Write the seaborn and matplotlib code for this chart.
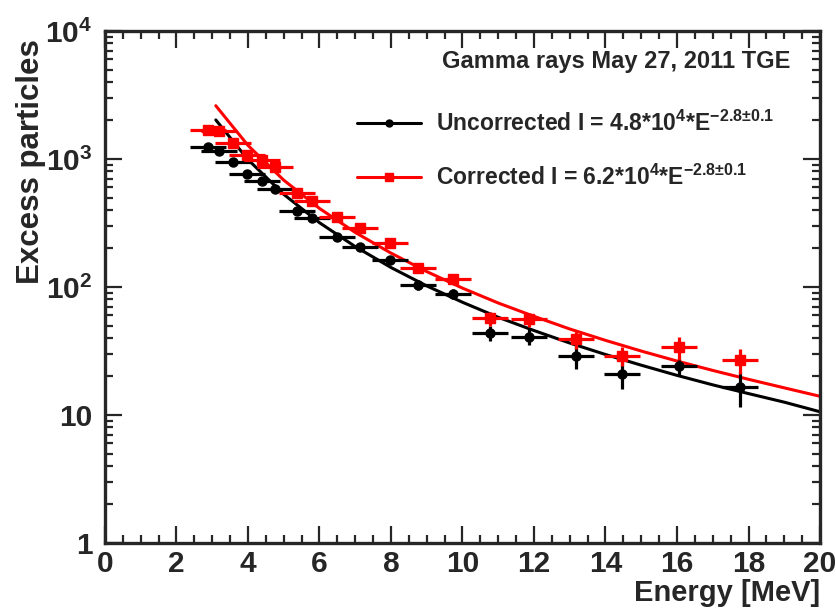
import seaborn as sns
import matplotlib.pyplot as plt
from matplotlib.lines import Line2D
from matplotlib.ticker import FixedLocator, FixedFormatter, MultipleLocator, LogLocator, NullFormatter

energy = [2.88, 3.19, 3.58, 3.97, 4.39, 4.76, 5.37, 5.79, 6.49, 7.13, 7.97,
          8.76, 9.73, 10.77, 11.86, 13.17, 14.46, 16.06, 17.76]
energy_err = [0.5] * 19
uncorr = [1240, 1155, 948, 764, 673, 583, 392, 346, 246, 205, 163,
          104, 88, 44, 41, 29, 21, 24, 16.5]
uncorr_err = [30, 30, 28, 26, 24, 22, 19, 18, 15, 13, 12, 9, 8, 6, 6, 6, 5, 4, 5]
corr = [1685, 1655, 1334, 1075, 982, 866, 543, 470, 352, 289, 221,
        141, 115, 57, 56, 39, 29, 34, 27]
corr_err = [40, 40, 38, 35, 32, 30, 25, 23, 20, 17, 15, 11, 9, 7, 7, 6, 5, 7, 6]

# fit curves
fit_e = [3.1, 4, 5, 6, 7, 8, 9, 10, 11, 12, 13, 14, 15, 16, 17, 18, 19, 20]
fit_uncorr = [2020, 990, 530, 318, 207, 142, 102, 76, 58, 45.7, 36.5, 29.7,
              24.5, 20.4, 17.2, 14.7, 12.6, 10.6]
fit_corr = [2609, 1278, 684, 411, 267, 184, 132, 98, 75, 59, 47, 38.3,
            31.6, 26.4, 22.3, 19.0, 16.3, 14.0]

y_ticks = [1, 10, 100, 1000, 10000]
y_labels = ['1', '10', '10$^{2}$', '10$^{3}$', '10$^{4}$']

sns.set_style('ticks')
plt.rcParams['font.family'] = ['Liberation Sans', 'DejaVu Sans']
plt.rcParams['font.weight'] = 'bold'
plt.rcParams['mathtext.fontset'] = 'custom'
plt.rcParams['mathtext.default'] = 'regular'

fig = plt.figure(figsize=(8.37, 6.08), dpi=100)
ax = fig.add_axes([0.1254, 0.1069, 0.8543, 0.8421])

sns.lineplot(x=fit_e, y=fit_uncorr, color='black', lw=2.2, ax=ax)
sns.lineplot(x=fit_e, y=fit_corr, color='red', lw=2.2, ax=ax)

ax.errorbar(energy, uncorr, xerr=energy_err, yerr=uncorr_err, fmt='o',
            color='black', ms=6.5, elinewidth=2.3, capsize=0)
ax.errorbar(energy, corr, xerr=energy_err, yerr=corr_err, fmt='s',
            color='red', ms=6.5, elinewidth=2.3, capsize=0)

ax.set_yscale('log')
ax.set_xlim(0, 20)
ax.set_ylim(1, 10000)

ax.xaxis.set_major_locator(MultipleLocator(2))
ax.xaxis.set_minor_locator(MultipleLocator(0.5))
ax.yaxis.set_major_locator(FixedLocator(y_ticks))
ax.yaxis.set_major_formatter(FixedFormatter(y_labels))
ax.yaxis.set_minor_locator(LogLocator(base=10, subs=range(2, 10)))
ax.yaxis.set_minor_formatter(NullFormatter())

ax.tick_params(which='both', direction='in', top=True, right=True, width=1.6)
ax.tick_params(which='major', length=12, labelsize=21.5)
ax.tick_params(which='minor', length=6)
ax.tick_params(axis='x', which='major', pad=5)
ax.tick_params(axis='y', which='major', pad=9)
for sp in ax.spines.values():
    sp.set_linewidth(2.4)

ax.set_xlabel('Energy [MeV]', loc='right', fontsize=21, fontweight='bold', labelpad=1)
ax.set_ylabel('Excess particles', loc='top', fontsize=22.5, fontweight='bold')
ax.yaxis.set_label_coords(-0.082, 0.985)

ax.text(0.471, 0.94, 'Gamma rays May 27, 2011 TGE', transform=ax.transAxes,
        fontsize=17, fontweight='bold', ha='left', va='center')

handles = [
    Line2D([], [], color='black', lw=2.2, marker='o', ms=5),
    Line2D([], [], color='red', lw=2.2, marker='s', ms=6),
]
labels = [
    'Uncorrected I = 4.8*10$^{4}$*E$^{-2.8±0.1}$',
    'Corrected I = 6.2*10$^{4}$*E$^{-2.8±0.1}$',
]
ax.legend(handles, labels, loc='upper left', bbox_to_anchor=(0.34, 0.862),
          frameon=False, fontsize=16.5, handlelength=2.8, handletextpad=0.65,
          labelspacing=1.25, borderaxespad=0)

fig.savefig('out.png', dpi=100)
